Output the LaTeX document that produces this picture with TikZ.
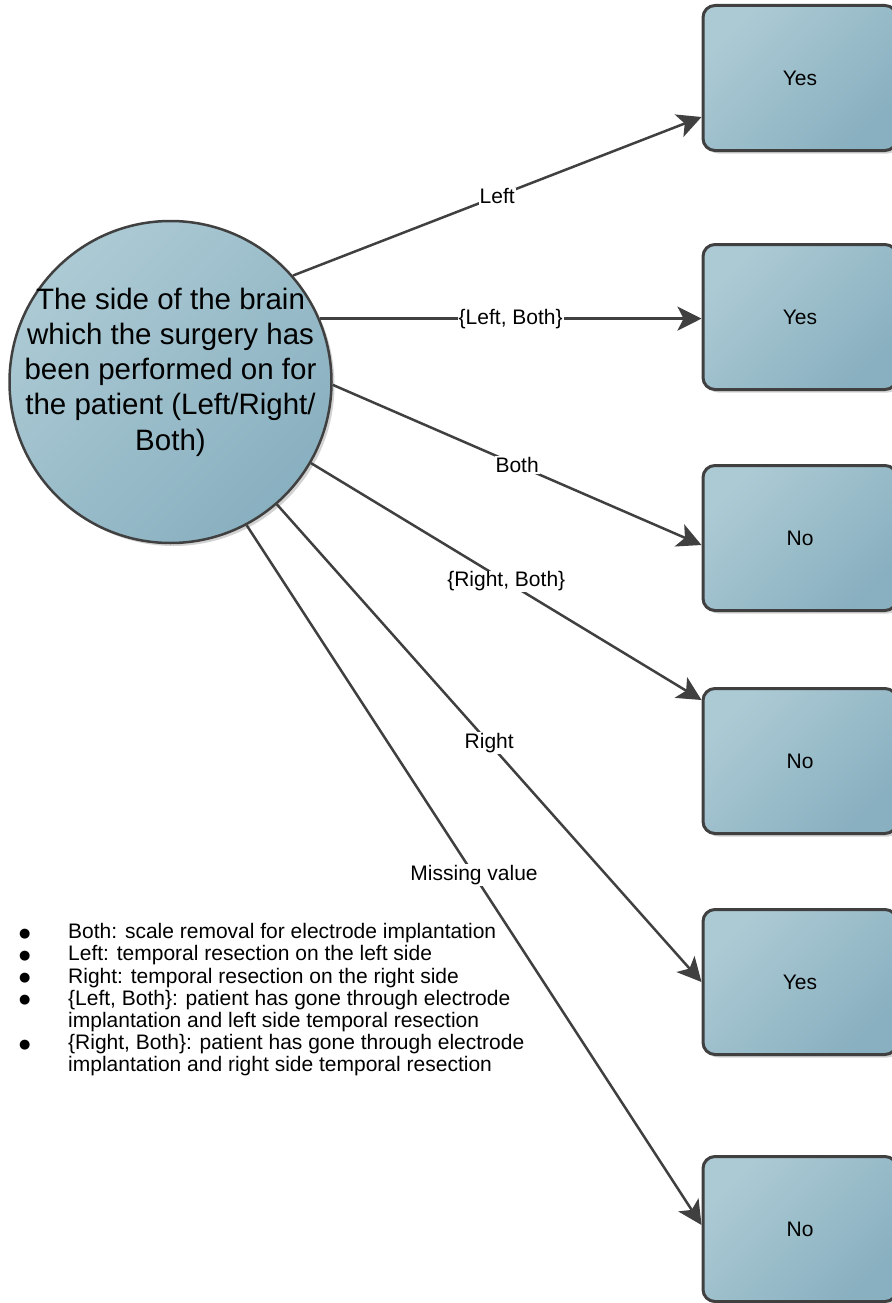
\documentclass[tikz,border=0pt]{standalone}
\usepackage{fontspec}
\setmainfont{Liberation Sans}
\newfontfamily\symfont{DejaVu Sans}
\usetikzlibrary{positioning,arrows.meta,shadows}
\definecolor{boxlight}{RGB}{172,202,212}
\definecolor{boxdark}{RGB}{137,176,192}
\definecolor{edgegray}{RGB}{64,64,64}
\newcommand{\lgdot}{\raisebox{1.5pt}{\symfont\fontsize{13}{14}\selectfont ●}}

\begin{document}
\begin{tikzpicture}[x=1pt, y=-1pt, >={Stealth[length=24pt, width=24pt, inset=6pt]},
  main/.style = {circle, draw=edgegray, line width=2.5pt, minimum size=322pt, inner sep=0pt, left color=boxlight, right color=boxdark, shading angle=45, drop shadow={shadow xshift=3pt, shadow yshift=-3pt, fill=gray!70}},
  box/.style = {rectangle, rounded corners=12pt, draw=edgegray, line width=3pt, minimum width=194pt, minimum height=145pt, left color=boxlight, right color=boxdark, shading angle=45, drop shadow={shadow xshift=3pt, shadow yshift=-3pt, fill=gray!70}, font=\fontsize{21}{24}\selectfont},
  lbl/.style = {fill=white, inner sep=1pt, font=\fontsize{21}{24}\selectfont, text=black},
  every edge/.append style={line width=2.5pt, draw=edgegray}]

\useasboundingbox (0,0) rectangle (891,1303);

% question
\node[main] (side) at (170.5,382) {};
\node[align=center, inner sep=0pt, font=\fontsize{29.5}{35.3}\selectfont] (sidetext) at ([yshift=10pt]side.center) {The side of the brain\\which the surgery has\\been performed on for\\the patient (Left/Right/\\Both)};

% answers
\node[box] (yes1) at (800,78) {Yes};
\node[box] (yes2) at (800,317) {Yes};
\node[box] (no1) at (800,538) {No};
\node[box] (no2) at (800,761) {No};
\node[box] (yes3) at (800,982) {Yes};
\node[box] (no3) at (800,1229) {No};

\path[->]
    (side.41.7) edge node[lbl] {Left} ([yshift=-39pt]yes1.west)
    (side.23.3) edge node[lbl] {\{Left, Both\}} (yes2.west |- side.23.3)
    (side.-1) edge node[lbl] {Both} ([yshift=-7pt]no1.west)
    (side.-30.2) edge node[lbl] {\{Right, Both\}} ([yshift=61pt]no2.west)
    (side.-49.3) edge node[lbl] {Right} (yes3.west)
    (side.-62.5) edge node[lbl] {Missing value} ([yshift=4pt]no3.west);

% legend
\node[anchor=north west, inner sep=0pt, font=\fontsize{21}{22.2}\selectfont] (legend) at (19,923) {%
\begin{tabular}{@{}p{49pt}@{}l@{}}
\lgdot & Both: scale removal for electrode implantation\\
\lgdot & Left: temporal resection on the left side\\
\lgdot & Right: temporal resection on the right side\\
\lgdot & \{Left, Both\}: patient has gone through electrode\\
 & implantation and left side temporal resection\\
\lgdot & \{Right, Both\}: patient has gone through electrode\\
 & implantation and right side temporal resection
\end{tabular}};
\end{tikzpicture}
\end{document}
